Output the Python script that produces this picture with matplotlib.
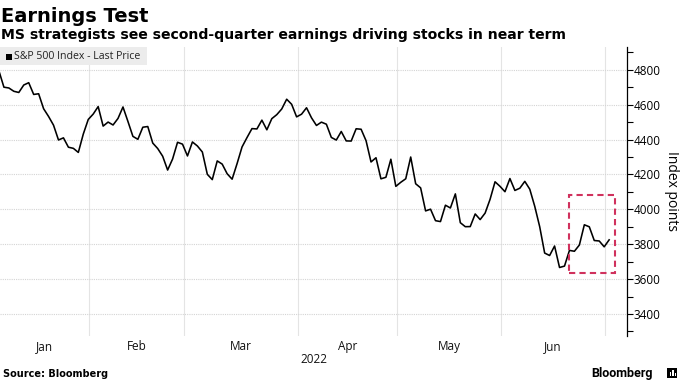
import numpy as np
import pandas as pd
import matplotlib
matplotlib.use("Agg")
import matplotlib.pyplot as plt
from matplotlib.patches import Rectangle
from matplotlib.ticker import MultipleLocator
import matplotlib.transforms as mtransforms

# S&P 500 daily closes, Jan 3 - Jul 1 2022
holidays = ["2022-01-17", "2022-02-21", "2022-04-15", "2022-05-30", "2022-06-20"]
jan = [4796.56, 4793.54, 4700.58, 4696.05, 4677.03, 4670.29, 4713.07, 4726.35, 4659.03, 4662.85,
       4577.11, 4532.76, 4482.73, 4397.94, 4410.13, 4356.45, 4349.93, 4326.51, 4431.85, 4515.55]
feb = [4546.54, 4589.38, 4477.44, 4500.53, 4483.87, 4521.54, 4587.18, 4504.08, 4418.64, 4401.67,
       4471.07, 4475.01, 4380.26, 4348.87, 4304.76, 4225.50, 4288.70, 4384.65, 4373.94]
mar = [4306.26, 4386.54, 4363.49, 4328.87, 4201.09, 4170.70, 4277.88, 4259.52, 4204.31, 4173.11,
       4262.45, 4357.86, 4411.67, 4463.12, 4461.18, 4511.61, 4456.24, 4520.16, 4543.06, 4575.52,
       4631.60, 4602.45, 4530.41]
apr = [4545.86, 4582.64, 4525.12, 4481.15, 4500.21, 4488.28, 4412.53, 4397.45, 4446.59, 4392.59,
       4391.69, 4462.21, 4459.45, 4393.66, 4271.78, 4296.12, 4175.20, 4183.96, 4287.50, 4131.93]
may = [4155.38, 4175.48, 4300.17, 4146.87, 4123.34, 3991.24, 4001.05, 3935.18, 3930.08, 4023.89,
       4008.01, 4088.85, 3923.68, 3900.79, 3901.36, 3973.75, 3941.48, 3978.73, 4057.84, 4158.24,
       4132.15]
jun = [4101.23, 4176.82, 4108.54, 4121.43, 4160.68, 4115.77, 4017.82, 3900.86, 3749.63, 3735.48,
       3789.99, 3666.77, 3674.84, 3764.79, 3759.89, 3795.73, 3911.74, 3900.11, 3821.55, 3818.83,
       3785.38]
jul = [3825.33]
closes = jan + feb + mar + apr + may + jun + jul

month_labels = ["Jan", "Feb", "Mar", "Apr", "May", "Jun"]
y_ticks = [3400, 3600, 3800, 4000, 4200, 4400, 4600, 4800]

days = pd.bdate_range("2022-01-03", "2022-07-01").drop(pd.to_datetime(holidays))
x = np.arange(len(days))

fig = plt.figure(figsize=(6.8, 3.83), dpi=100)
fig.patch.set_facecolor("white")
W, H = 680, 383
ax = fig.add_axes([0, 1 - 336 / H, 627 / W, 289 / H])

xlim = (1.21, 127.6)
ax.set_xlim(*xlim)
ax.set_ylim(3274, 4931)

ax.plot(x, closes, color="black", lw=1.15, zorder=3)

# month boundaries (first trading day of each month)
months = days.to_period("M")
starts = [i for i in range(len(days)) if i == 0 or months[i] != months[i - 1]]
bounds = [s - 0.8 for s in starts]
for b in bounds[1:]:
    ax.axvline(b, color="#e4e4e4", lw=0.8, zorder=1)
for yt in y_ticks:
    ax.axhline(yt, color="#d4d4d4", lw=0.8, ls=(0, (1, 1)), zorder=1)

blend = mtransforms.blended_transform_factory(ax.transData, ax.transAxes)
for k, lab in enumerate(month_labels):
    a = max(bounds[k], xlim[0])
    b = min(bounds[k + 1], xlim[1])
    ax.text((a + b) / 2, -0.035, lab, transform=blend, ha="center", va="center",
            fontsize=8.5, family="Open Sans", color="#111111")
ax.text(0.5, -0.083, "2022", transform=ax.transAxes, ha="center", va="center",
        fontsize=8.5, family="Open Sans", color="#111111")

# highlight box
ax.add_patch(Rectangle((115.9, 3635), 125.2 - 115.9, 4080 - 3635, fill=False,
                       ec="#d0315d", lw=1.5, ls=(0, (3, 2)), zorder=4, clip_on=False))

for s in ["left", "top", "bottom"]:
    ax.spines[s].set_visible(False)
ax.spines["right"].set_color("black")
ax.spines["right"].set_linewidth(0.9)
ax.set_xticks([])
ax.yaxis.tick_right()
ax.set_yticks(y_ticks)
ax.yaxis.set_minor_locator(MultipleLocator(100))
ax.tick_params(axis="y", which="both", length=4, width=0.8, pad=1, labelsize=8.5, colors="black")
for t in ax.get_yticklabels():
    t.set_family("Open Sans")
ax.set_facecolor("white")

fig.text(672 / W, 1 - 191 / H, "Index points", rotation=270, ha="center", va="center",
         fontsize=10, family="Open Sans")

# legend strip
fig.patches.append(Rectangle((0, 1 - 65 / H), 147 / W, 18 / H, transform=fig.transFigure,
                             facecolor="#ececec", edgecolor="none", zorder=5))
fig.patches.append(Rectangle((6 / W, 1 - 59.5 / H), 6 / W, 6 / H, transform=fig.transFigure,
                             facecolor="black", edgecolor="none", zorder=6))
fig.text(14.5 / W, 1 - 56.5 / H, "S&P 500 Index - Last Price", ha="left", va="center",
         fontsize=7.6, family="Open Sans", color="#222222", zorder=6)

# titles
fig.text(0.002, 1 - 22 / H, "Earnings Test", ha="left", va="baseline",
         fontsize=14, fontweight="bold", family="DejaVu Sans")
fig.text(0.002, 1 - 38.5 / H, "MS strategists see second-quarter earnings driving stocks in near term",
         ha="left", va="baseline", fontsize=10.1, fontweight="bold", family="DejaVu Sans")

fig.text(3 / W, 1 - 374 / H, "Source: Bloomberg", ha="left", va="center",
         fontsize=7.0, fontweight="bold", family="DejaVu Sans")
fig.text(653 / W, 1 - 373.5 / H, "Bloomberg", ha="right", va="center",
         fontsize=9, fontweight="bold", family="Roboto")
# little logo square
fig.patches.append(Rectangle((667 / W, 1 - 378 / H), 10 / W, 10 / H, transform=fig.transFigure,
                             facecolor="black", edgecolor="none", zorder=5))
for bx, bh in [(669.5, 4), (672, 6), (674.5, 3)]:
    fig.patches.append(Rectangle((bx / W, 1 - 376 / H), 1.5 / W, bh / H, transform=fig.transFigure,
                                 facecolor="white", edgecolor="none", zorder=6))

fig.savefig("out.png", dpi=100)
